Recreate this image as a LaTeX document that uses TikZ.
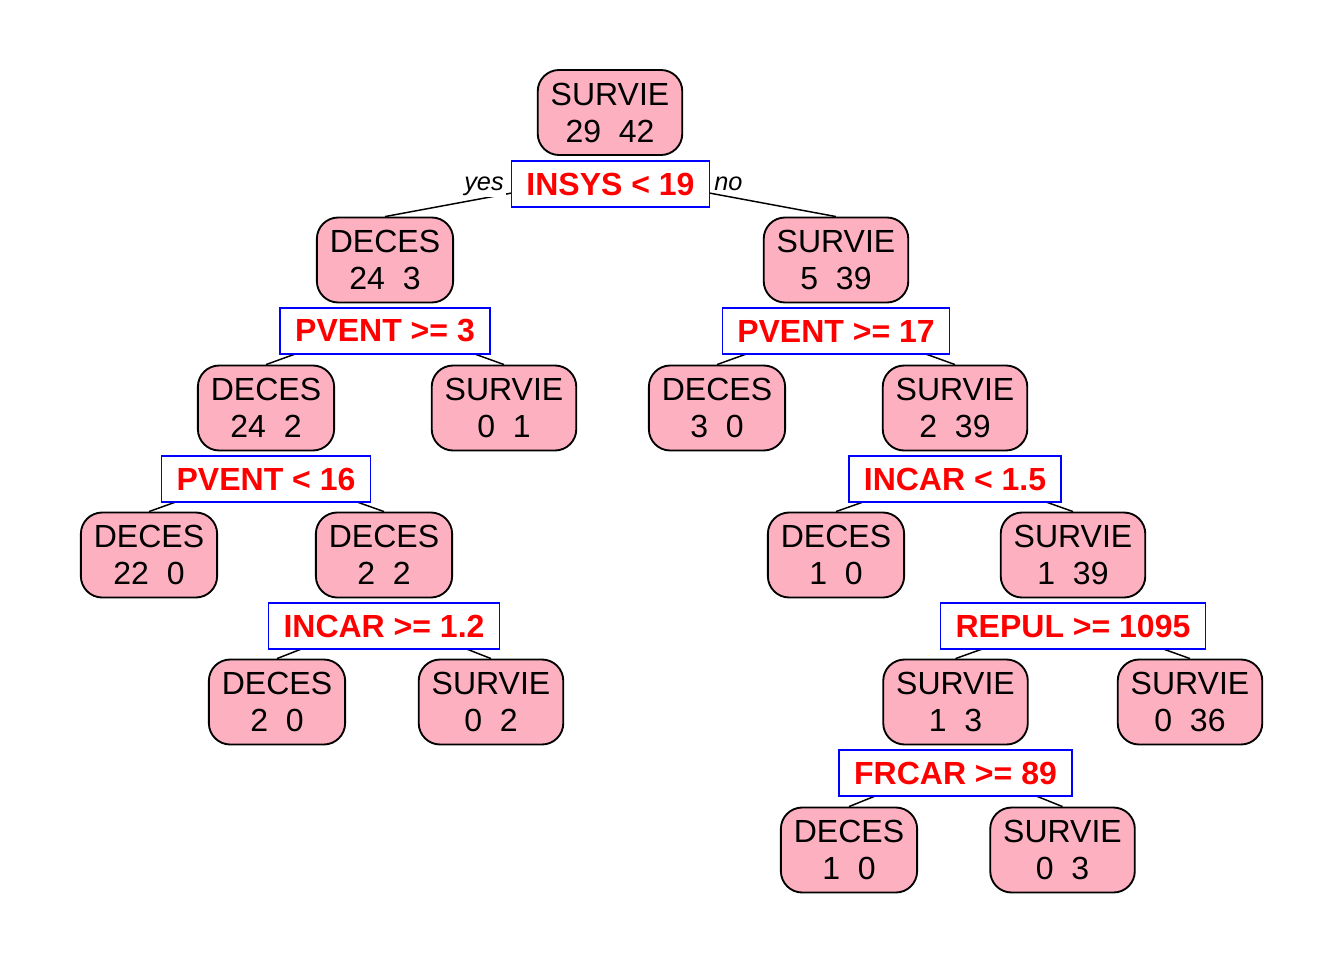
\documentclass[tikz,border=0pt]{standalone}
\usepackage{fontspec}
\setmainfont{Liberation Sans}
\usetikzlibrary{backgrounds}
\definecolor{leafpink}{RGB}{252,176,192}
\begin{document}
\begin{tikzpicture}[x=0.75pt,y=-0.75pt,
  tnode/.style={draw=black,line width=1.4pt,fill=leafpink,rounded corners=16pt,
    align=center,minimum height=63.75pt,inner xsep=9.75pt,
    font=\fontsize{24}{27.75}\selectfont},
  splitbox/.style={draw=blue,line width=1.1pt,fill=white,text=red,
    minimum height=34.5pt,inner xsep=11.25pt,inner ysep=0pt,
    font=\fontsize{24}{28}\selectfont\bfseries},
  branch/.style={draw=black,line width=1.1pt},
  yn/.style={font=\fontsize{19}{22}\selectfont\itshape,inner sep=1.5pt,fill=white}]
\useasboundingbox (0,0) rectangle (1344,960);
% nodes
\node[tnode] (r) at (610,112.5) {SURVIE\\29\ \ 42};
\node[splitbox] (s1) at (610.5,184) {INSYS < 19};
\node[tnode] (a) at (385,260) {DECES\\24\ \ 3};
\node[tnode] (b) at (836,260) {SURVIE\\5\ \ 39};
\node[splitbox] (s2) at (385,331) {PVENT >= 3};
\node[splitbox] (s3) at (836,331) {PVENT >= 17};
\node[tnode] (c) at (266,408) {DECES\\24\ \ 2};
\node[tnode] (d) at (504,408) {SURVIE\\0\ \ 1};
\node[tnode] (e) at (717,408) {DECES\\3\ \ 0};
\node[tnode] (f) at (955,408) {SURVIE\\2\ \ 39};
\node[splitbox] (s4) at (266,479) {PVENT < 16};
\node[splitbox] (s5) at (955,479) {INCAR < 1.5};
\node[tnode] (g) at (149,555) {DECES\\22\ \ 0};
\node[tnode] (h) at (384,555) {DECES\\2\ \ 2};
\node[tnode] (i) at (836,555) {DECES\\1\ \ 0};
\node[tnode] (j) at (1073,555) {SURVIE\\1\ \ 39};
\node[splitbox] (s6) at (384,626) {INCAR >= 1.2};
\node[splitbox] (s7) at (1073,626) {REPUL >= 1095};
\node[tnode] (k) at (277,702) {DECES\\2\ \ 0};
\node[tnode] (l) at (491,702) {SURVIE\\0\ \ 2};
\node[tnode] (m) at (955.5,702) {SURVIE\\1\ \ 3};
\node[tnode] (n) at (1190,702) {SURVIE\\0\ \ 36};
\node[splitbox] (s8) at (955.5,773) {FRCAR >= 89};
\node[tnode] (o) at (849,850) {DECES\\1\ \ 0};
\node[tnode] (p) at (1062.5,850) {SURVIE\\0\ \ 3};
% yes / no
\node[yn,anchor=base east] (yes) at (506,190) {yes};
\node[yn,anchor=base west] (no) at (712,190) {no};
% branches
\begin{pgfonlayer}{background}
\foreach \s/\l/\rr in {s1/a/b,s2/c/d,s3/e/f,s4/g/h,s5/i/j,s6/k/l,s7/m/n,s8/o/p}{
  \draw[branch] ([yshift=7pt]\s.center) -- (\l.north);
  \draw[branch] ([yshift=7pt]\s.center) -- (\rr.north);
}
\end{pgfonlayer}
\end{tikzpicture}
\end{document}
